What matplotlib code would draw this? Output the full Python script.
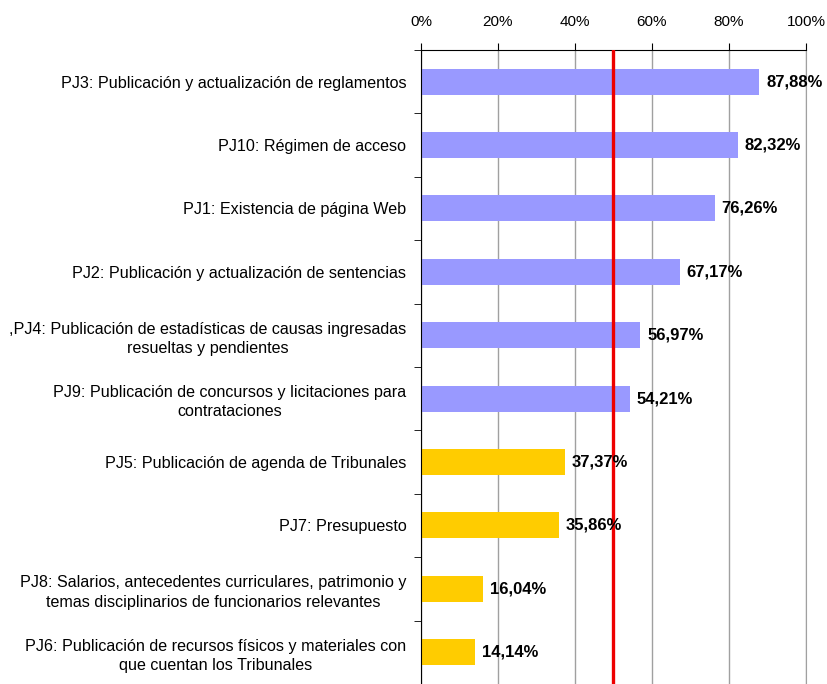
import matplotlib
matplotlib.use("Agg")
import matplotlib.pyplot as plt
from matplotlib.ticker import FixedLocator

plt.rcParams['font.family'] = ['Liberation Sans', 'DejaVu Sans']

labels = [
    "PJ3: Publicación y actualización de reglamentos",
    "PJ10: Régimen de acceso",
    "PJ1: Existencia de página Web",
    "PJ2: Publicación y actualización de sentencias",
    ",PJ4: Publicación de estadísticas de causas ingresadas\nresueltas y pendientes",
    "PJ9: Publicación de concursos y licitaciones para\ncontrataciones",
    "PJ5: Publicación de agenda de Tribunales",
    "PJ7: Presupuesto",
    "PJ8: Salarios, antecedentes curriculares, patrimonio y\ntemas disciplinarios de funcionarios relevantes",
    "PJ6: Publicación de recursos físicos y materiales con\nque cuentan los Tribunales",
]
values = [87.88, 82.32, 76.26, 67.17, 56.97, 54.21, 37.37, 35.86, 16.04, 14.14]
threshold = 50

colors = ["#9999FF" if v >= threshold else "#FFCC00" for v in values]

fig = plt.figure(figsize=(8.27, 6.84), dpi=100)
ax = fig.add_axes([0.509, 0.0, 0.9746 - 0.509, 0.927])

pos = list(range(len(values)))
ax.barh(pos, values, height=0.41, color=colors, zorder=2)
ax.set_ylim(len(values) - 0.5, -0.5)
ax.set_xlim(0, 100)

for p, v in zip(pos, values):
    ax.text(v + 1.8, p, f"{v:.2f}%".replace(".", ","), va="center", ha="left",
            fontsize=12, fontweight="bold", zorder=4)

ax.axvline(threshold, color="#EE0000", lw=2.4, zorder=3)

ax.xaxis.tick_top()
ax.set_xticks([0, 20, 40, 60, 80, 100])
ax.set_xticklabels([f"{t}%" for t in [0, 20, 40, 60, 80, 100]], fontsize=11)
ax.tick_params(axis="x", direction="out", length=5, color="black", pad=10)
ax.grid(axis="x", color="#A0A0A0", lw=1, zorder=1)

ax.set_yticks(pos)
ax.set_yticklabels(labels, fontsize=11.6, multialignment="center", linespacing=1.35)
ax.tick_params(axis="y", length=0, pad=10.5)
ax.yaxis.set_minor_locator(FixedLocator([p + 0.5 for p in pos[:-1]] + [-0.5]))
ax.tick_params(axis="y", which="minor", length=5, direction="out", color="black")

ax.spines["bottom"].set_visible(False)
ax.spines["right"].set_color("#A0A0A0")
ax.spines["top"].set_color("black")
ax.spines["left"].set_color("black")

fig.savefig("out.png", dpi=100)
